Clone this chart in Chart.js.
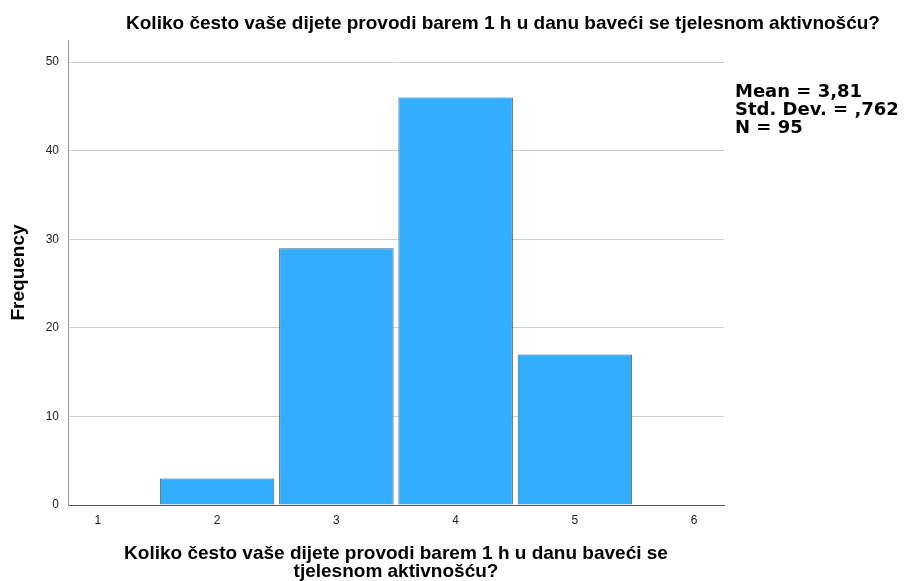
<!DOCTYPE html>
<html>
<head>
<meta charset="utf-8">
<script src="https://cdn.jsdelivr.net/npm/chart.js@4/dist/chart.umd.min.js"></script>
<style>
  html, body { margin: 0; padding: 0; background: #fff; }
  canvas { display: block; }
</style>
</head>
<body>
<canvas id="myChart" width="907" height="581"></canvas>
<script>
// Histogram data
const categories = [2, 3, 4, 5];
const frequencies = [3, 29, 46, 17];
const xTicks = [1, 2, 3, 4, 5, 6];
const yTicks = [0, 10, 20, 30, 40, 50];
const titleText = 'Koliko često vaše dijete provodi barem 1 h u danu baveći se tjelesnom aktivnošću?';
const xTitle = ['Koliko često vaše dijete provodi barem 1 h u danu baveći se', 'tjelesnom aktivnošću?'];
const yTitle = 'Frequency';
const statsLines = ['Mean = 3,81', 'Std. Dev. = ,762', 'N = 95'];

const FONT = "'Liberation Sans', Arial, sans-serif";
let ctx = document.getElementById('myChart').getContext('2d');

// draws the top title and the stats box on the right
const textPlugin = {
    id: 'spssText',
    afterDraw(chart) {
        const c = chart.ctx;
        c.save();
        c.fillStyle = '#000';
        c.textBaseline = 'alphabetic';
        c.font = 'bold 19px ' + FONT;
        c.textAlign = 'center';
        c.fillText(titleText, 503, 29);
        c.textAlign = 'left';
        c.font = "bold 18px 'DejaVu Sans', sans-serif";
        statsLines.forEach((line, i) => {
            c.fillText(line, 735, 97 + i * 18);
        });
        c.restore();
    }
};

const points = categories.map((x, i) => ({ x: x, y: frequencies[i] }));

new Chart(ctx, {
    type: 'bar',
    data: {
        datasets: [{
            label: 'Frequency',
            data: points,
            backgroundColor: 'rgb(51, 173, 255)',
            borderColor: '#5a5a5a',
            borderWidth: 1,
            borderSkipped: 'bottom',
            barPercentage: 0.96,
            categoryPercentage: 1
        }]
    },
    options: {
        responsive: false,
        animation: false,
        layout: { padding: { left: 0, right: 183, top: 40, bottom: 0 } },
        plugins: {
            legend: { display: false },
            tooltip: { enabled: false }
        },
        scales: {
            x: {
                type: 'linear',
                min: 0.75,
                max: 6.25,
                offset: false,
                afterBuildTicks: (scale) => { scale.ticks = xTicks.map(v => ({ value: v })); },
                afterFit: (scale) => { scale.height = 76; },
                grid: { display: false, drawTicks: false, offset: false },
                border: { display: true, color: '#555', width: 1 },
                ticks: {
                    padding: 8,
                    color: '#222',
                    font: { family: FONT, size: 12 },
                    maxRotation: 0
                },
                title: {
                    display: true,
                    text: xTitle,
                    color: '#000',
                    font: { family: FONT, size: 19, weight: 'bold', lineHeight: 0.95 },
                    padding: { top: 0, bottom: 0 }
                }
            },
            y: {
                min: 0,
                max: 52.5,
                afterBuildTicks: (scale) => { scale.ticks = yTicks.map(v => ({ value: v })); },
                afterFit: (scale) => { scale.width = 68; },
                grid: { color: '#d0d0d0', lineWidth: 1, drawTicks: false },
                border: { display: true, color: '#999', width: 1 },
                ticks: {
                    padding: 9,
                    color: '#222',
                    font: { family: FONT, size: 12 }
                },
                title: {
                    display: true,
                    text: yTitle,
                    color: '#000',
                    font: { family: FONT, size: 19, weight: 'bold' },
                    padding: { top: 7, bottom: 0 }
                }
            }
        }
    },
    plugins: [textPlugin]
});
</script>
</body>
</html>
